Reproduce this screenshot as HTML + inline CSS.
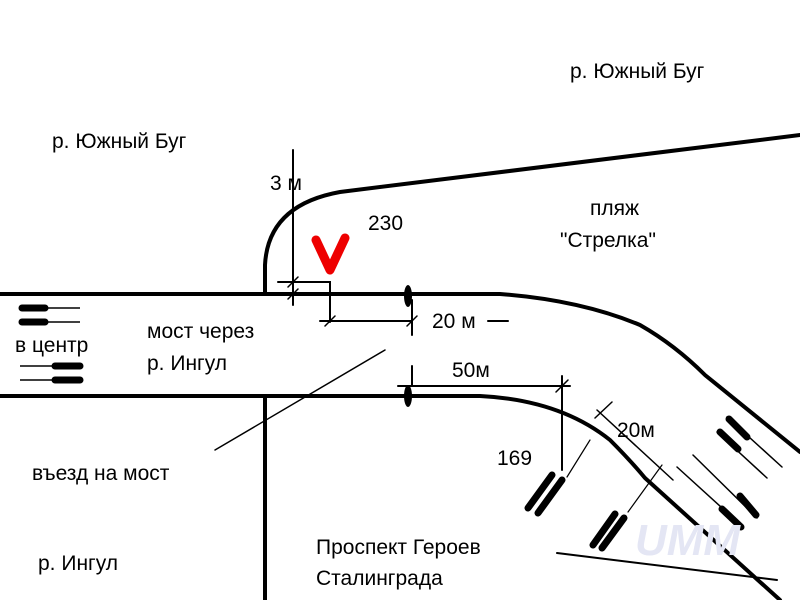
<!DOCTYPE html>
<html><head><meta charset="utf-8"><style>
html,body{margin:0;padding:0;background:#fff;width:800px;height:600px;overflow:hidden}
svg text{font-family:"Liberation Sans","DejaVu Sans",sans-serif;font-size:21px;fill:#000}
</style></head><body>
<svg width="800" height="600" viewBox="0 0 800 600" xmlns="http://www.w3.org/2000/svg">
<g stroke="#000" fill="none" stroke-linecap="round">
<path d="M0 294 L500 294 Q580 300 640 325 Q675 345 705 375 L800 452" stroke-width="4"/>
<path d="M0 396 L480 396 Q560 400 610 440 Q630 460 645 478 L780 600" stroke-width="4"/>
<path d="M265 396 L265 600" stroke-width="4"/>
<path d="M265 294 L265 265 Q268 205 340 192 L800 135" stroke-width="4"/>
<path d="M293 150 L293 305" stroke-width="2"/>
<path d="M278 282 L330 282 L330 322" stroke-width="2"/>
<path d="M320 321 L412 321" stroke-width="2"/>
<path d="M412 300 L412 335" stroke-width="2"/>
<path d="M288 287 L298 277 M288 299 L298 289 M325 326 L335 316 M407 326 L417 316" stroke-width="1.5"/>
<path d="M488 321 L508 321" stroke-width="2"/>
<path d="M398 386 L570 386" stroke-width="2"/>
<path d="M412 366 L412 386" stroke-width="2"/>
<path d="M562 376 L562 470" stroke-width="2"/>
<path d="M556 392 L568 380" stroke-width="1.5"/>
<path d="M215 450 L385 350" stroke-width="1.5"/>
<path d="M597 410 L673 480 M595 418 L612 402 M677 467 L743 527" stroke-width="1.5"/>
<path d="M590 440 L567 477 M662 465 L628 512" stroke-width="1.2"/>
<path d="M727 417 L782 467 M717 432 L767 478 M693 455 L757 518" stroke-width="1.5"/>
<path d="M557 553 L777 580" stroke-width="2"/>
</g>
<ellipse cx="408" cy="296" rx="4" ry="11" fill="#000"/>
<ellipse cx="408" cy="396" rx="4" ry="11" fill="#000"/>
<g stroke="#000" stroke-width="7" stroke-linecap="round">
<path d="M22 308 L45 308 M22 322 L45 322 M55 366 L80 366 M55 380 L80 380"/>
<path d="M528 508 L552 475 M538 513 L562 480 M593 545 L615 514 M602 548 L624 518"/>
<path d="M729 419 L747 437 M720 432 L738 449 M722 509 L741 527 M740 496 L756 515"/>
</g>
<g stroke="#000" stroke-width="1.5">
<path d="M45 308 L80 308 M45 322 L80 322 M20 366 L55 366 M20 380 L55 380"/>
</g>
<path d="M316 240 L330 270 L345 238" stroke="#e00" stroke-width="9" fill="none" stroke-linecap="round" stroke-linejoin="round"/>
<text x="570" y="78">р. Южный Буг</text>
<text x="52" y="148">р. Южный Буг</text>
<text x="270" y="190">3 м</text>
<text x="368" y="230">230</text>
<text x="590" y="215">пляж</text>
<text x="560" y="247">"Стрелка"</text>
<text x="147" y="338">мост через</text>
<text x="147" y="370">р. Ингул</text>
<text x="15" y="352">в центр</text>
<text x="432" y="328">20 м</text>
<text x="452" y="377">50м</text>
<text x="497" y="465">169</text>
<text x="617" y="437">20м</text>
<text x="32" y="480">въезд на мост</text>
<text x="38" y="570">р. Ингул</text>
<text x="316" y="554">Проспект Героев</text>
<text x="316" y="585">Сталинграда</text>
<text x="635" y="555" style="font-size:44px;font-style:italic;font-weight:bold;fill:#e4e6f4">UMM</text>
</svg>
</body></html>
